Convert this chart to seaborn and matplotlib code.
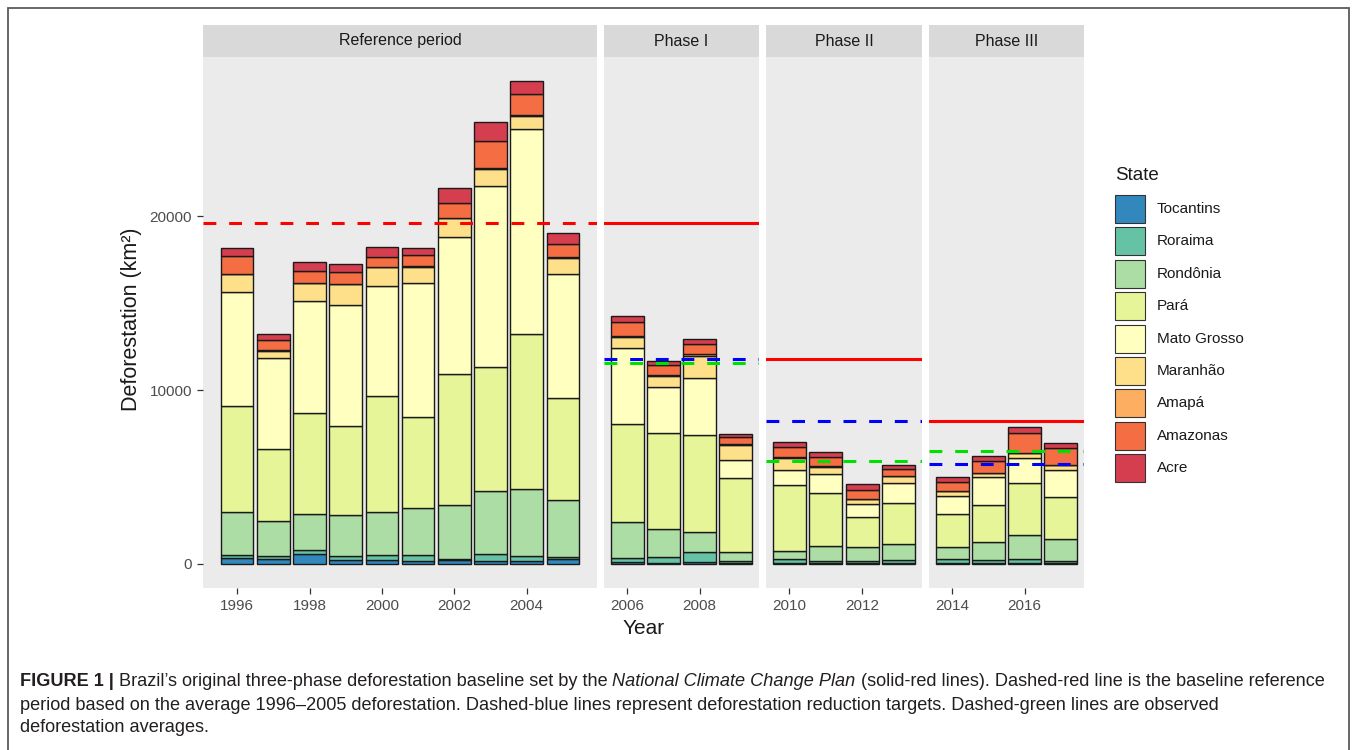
import matplotlib
matplotlib.use("Agg")
import matplotlib.pyplot as plt
from matplotlib.patches import Rectangle
import numpy as np
import pandas as pd
import seaborn as sns

# ---------------------------------------------------------------- data
years = list(range(1996, 2018))
periods = (["Reference period"] * 10 + ["Phase I"] * 4
           + ["Phase II"] * 4 + ["Phase III"] * 4)
panel_names = ["Reference period", "Phase I", "Phase II", "Phase III"]

# states listed from the bottom of each stack to the top
states = ["Tocantins", "Roraima", "Rondônia", "Pará", "Mato Grosso",
          "Maranhão", "Amapá", "Amazonas", "Acre"]
state_colors = ["#3288BD", "#66C2A5", "#ABDDA4", "#E6F598", "#FFFFBF",
                "#FEE08B", "#FDAE61", "#F46D43", "#D53E4F"]

# annual clear-cut deforestation per state (km2), 1996-2017
tocantins   = [320, 273, 576, 216, 244, 189, 212, 156, 158, 271, 124, 63, 107, 61, 49, 40, 52, 60, 50, 57, 58, 31]
roraima     = [214, 184, 223, 220, 253, 345, 84, 439, 311, 133, 231, 309, 574, 121, 256, 141, 124, 140, 219, 156, 202, 132]
rondonia    = [2432, 1986, 2041, 2358, 2465, 2673, 3099, 3597, 3858, 3244, 2049, 1611, 1136, 482, 435, 865, 773, 960, 684, 1030, 1376, 1243]
para        = [6135, 4139, 5829, 5111, 6671, 5237, 7510, 7145, 8870, 5899, 5659, 5526, 5607, 4281, 3770, 3008, 1741, 2350, 1887, 2153, 2992, 2433]
mato_grosso = [6543, 5271, 6466, 6963, 6369, 7703, 7892, 10405, 11814, 7145, 4333, 2678, 3258, 1049, 871, 1120, 757, 1150, 1075, 1601, 1489, 1561]
maranhao    = [1061, 409, 1012, 1230, 1065, 958, 1085, 993, 755, 922, 674, 631, 1271, 828, 712, 396, 269, 380, 257, 209, 258, 265]
amapa       = [0, 18, 30, 0, 0, 7, 0, 25, 46, 33, 30, 39, 100, 70, 53, 66, 27, 23, 31, 25, 17, 24]
amazonas    = [1023, 589, 670, 720, 612, 634, 885, 1558, 1232, 775, 788, 610, 604, 405, 595, 502, 523, 420, 500, 712, 1129, 1001]
acre        = [433, 358, 536, 441, 547, 419, 883, 1078, 728, 592, 398, 184, 254, 167, 259, 280, 305, 200, 309, 264, 372, 257]

# reference line levels (km2)
reference_average = 19625                 # 1996-2005 mean, reference panel
phase_baseline = [19625, 11775, 8243]     # solid red
phase_target = [11775, 8243, 5770]        # dashed blue
phase_observed = [11578, 5918, 6515]      # dashed green

y_ticks = [0, 10000, 20000]

series = [tocantins, roraima, rondonia, para, mato_grosso,
          maranhao, amapa, amazonas, acre]
df = pd.DataFrame(
    [(y, p, s, vals[i]) for s, vals in zip(states, series)
     for i, (y, p) in enumerate(zip(years, periods))],
    columns=["year", "period", "state", "value"])
palette = dict(zip(states, state_colors))

# ---------------------------------------------------------------- layout
W, H = 1358, 750
sns.set_theme(style="white")
plt.rcParams["font.family"] = ["Liberation Sans", "DejaVu Sans"]

fig = plt.figure(figsize=(W / 100, H / 100), dpi=100)
fig.patch.set_facecolor("white")

def fx(px):
    return px / W

def fy(py):
    return 1 - py / H

panel_top, panel_bottom = 57, 588
strip_top = 25
panel_x = [(203, 597), (604, 759), (766, 922), (929, 1084)]

ymin, ymax = -1389, 29161
PANEL_BG = "#EBEBEB"
STRIP_BG = "#D9D9D9"
TICK_TXT = "#4D4D4D"

axes = []
for k, (name, (x0, x1)) in enumerate(zip(panel_names, panel_x)):
    ax = fig.add_axes([fx(x0), fy(panel_bottom), fx(x1 - x0),
                       (panel_bottom - panel_top) / H])
    axes.append(ax)
    sub = df[df["period"] == name]
    sns.histplot(data=sub, x="year", weights="value", hue="state",
                 hue_order=states[::-1], palette=palette,
                 multiple="stack", discrete=True, shrink=0.9,
                 alpha=1, edgecolor="#1a1a1a", linewidth=1.0,
                 legend=False, ax=ax)
    ax.set_facecolor(PANEL_BG)
    for sp in ax.spines.values():
        sp.set_visible(False)
    yrs = sorted(sub["year"].unique())
    lo, hi = yrs[0] - 0.45, yrs[-1] + 0.45
    pad = 0.05 * (hi - lo)
    ax.set_xlim(lo - pad, hi + pad)
    ax.set_ylim(ymin, ymax)
    ax.set_xlabel("")
    ax.set_ylabel("")
    ax.grid(False)
    ax.set_xticks([y for y in yrs if y % 2 == 0])
    ax.set_xticklabels([str(y) for y in yrs if y % 2 == 0])
    ax.set_yticks(y_ticks)
    if k == 0:
        ax.set_yticklabels([str(v) for v in y_ticks])
        ax.tick_params(axis="y", left=True, length=4, width=0.9,
                       color="#333333", labelsize=11, labelcolor=TICK_TXT,
                       pad=4)
    else:
        ax.tick_params(axis="y", left=False, labelleft=False)
    ax.tick_params(axis="x", bottom=True, length=4, width=0.9,
                   color="#333333", labelsize=11, labelcolor=TICK_TXT, pad=4)

    # facet strip
    strip_h = (panel_top - strip_top) / (panel_bottom - panel_top)
    ax.add_patch(Rectangle((0, 1), 1, strip_h, transform=ax.transAxes,
                           facecolor=STRIP_BG, edgecolor="none",
                           clip_on=False))
    ax.text(0.5, 1 + strip_h / 2, name, transform=ax.transAxes,
            ha="center", va="center", fontsize=11.5, color="#1A1A1A")

    # reference / baseline / target / observed lines
    if k == 0:
        ax.axhline(reference_average, color="#FF0000", lw=2.2,
                   dashes=(4.2, 4.2))
    else:
        i = k - 1
        ax.axhline(phase_baseline[i], color="#FF0000", lw=2.2)
        ax.axhline(phase_observed[i], color="#00E000", lw=2.2,
                   dashes=(4.2, 4.2))
        ax.axhline(phase_target[i], color="#0000FF", lw=2.2,
                   dashes=(4.2, 4.2))

# axis titles
fig.text(fx((203 + 1084) / 2), fy(628), "Year", ha="center", va="center",
         fontsize=15, color="#1A1A1A")
fig.text(fx(132), fy(319), "Deforestation (km²)",
         ha="center", va="center", rotation=90, fontsize=15.5,
         color="#1A1A1A")

# legend
fig.text(fx(1115), fy(175), "State", ha="left", va="center", fontsize=13.5,
         color="#1A1A1A")
for i, (s, c) in enumerate(zip(states, state_colors)):
    top = 195 + i * 32.4
    fig.add_artist(Rectangle((fx(1115), fy(top + 28)), fx(30), 28 / H,
                             transform=fig.transFigure, facecolor=c,
                             edgecolor="#333333", linewidth=0.8))
    fig.text(fx(1157), fy(top + 14), s, ha="left", va="center",
             fontsize=11, color="#1A1A1A")

# caption with mixed bold / italic runs
CAP_FONT = ["Liberation Sans", "DejaVu Sans"]
CAP_SIZE = 13.1
CAP_COLOR = "#231F20"
renderer = fig.canvas.get_renderer()

def text_width(s, **style):
    t = fig.text(0, 0, s, fontsize=CAP_SIZE, family=CAP_FONT, **style)
    w = t.get_window_extent(renderer).width
    t.remove()
    return w

space_w = text_width("a a") - text_width("aa")

def rich_line(x_px, y_px, runs):
    x = x_px
    for s, style in runs:
        t = fig.text(fx(x), fy(y_px), s, ha="left", va="center",
                     fontsize=CAP_SIZE, family=CAP_FONT, color=CAP_COLOR,
                     **style)
        x += t.get_window_extent(renderer).width + space_w

bold = {"fontweight": "bold"}
normal = {}
italic = {"fontstyle": "italic"}
rich_line(20, 681, [
    ("FIGURE 1 |", bold),
    ("Brazil’s original three-phase deforestation baseline set by the", normal),
    ("National Climate Change Plan", italic),
    ("(solid-red lines). Dashed-red line is the baseline reference", normal),
])
rich_line(20, 705, [
    ("period based on the average 1996–2005 deforestation. Dashed-blue lines "
     "represent deforestation reduction targets. Dashed-green lines are observed",
     normal),
])
rich_line(20, 728, [("deforestation averages.", normal)])

# outer frame
fig.add_artist(Rectangle((fx(8), fy(760)), fx(1341), 752 / H,
                         transform=fig.transFigure, fill=False,
                         edgecolor="#5A5A5A", linewidth=1.3))

fig.savefig("out.png", dpi=100, facecolor="white")
